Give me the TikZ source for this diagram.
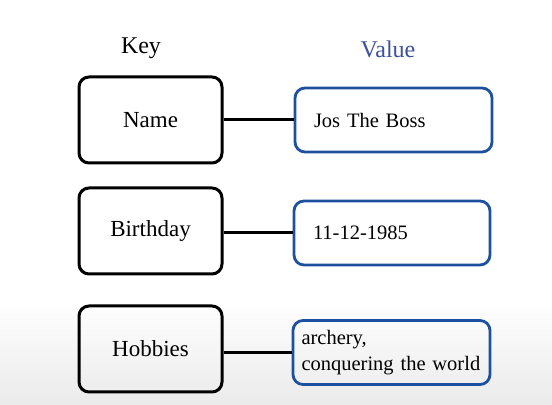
\documentclass[tikz,border=0pt]{standalone}
\usepackage{fontspec}
\setmainfont{Liberation Serif}
\definecolor{valblue}{RGB}{30,80,160}
\definecolor{headblue}{RGB}{60,80,155}
\tikzset{
    keybox/.style={draw, line width=1.5pt, rounded corners=5pt,
        minimum width=71.5pt, minimum height=43pt,
        font=\fontsize{11.5}{13}\selectfont},
    valbox/.style={draw=valblue, line width=1.4pt, rounded corners=5pt,
        minimum height=32pt, align=left,
        font=\fontsize{10.25}{13}\selectfont},
    link/.style={line width=1.5pt}
}
\begin{document}
\begin{tikzpicture}[x=0.5pt, y=-0.5pt]
    \useasboundingbox (0, 0) rectangle (552, 405);
    \shade[top color=white, bottom color=black!8] (0, 300) rectangle (552, 405);

    \node[font=\fontsize{12}{14}\selectfont] (keyhead) at (141, 48) {Key};
    \node[font=\fontsize{12}{14}\selectfont, text=headblue] (valhead) at (388, 49) {Value};

    \node[keybox] (name) at (150.5, 120) {Name};
    \node[keybox] (birthday) at (150.5, 231) {Birthday};
    \node[keybox] (hobbies) at (150.5, 349) {Hobbies};

    \node[valbox, inner xsep=9.5pt, text width=79.5pt] (nameval) at (393.5, 120)
        {Jos The Boss};
    \node[valbox, inner xsep=9.5pt, text width=79pt] (birthdayval) at (392, 233)
        {11-12-1985};
    \node[valbox, inner xsep=4.25pt, text width=90pt] (hobbiesval) at (391.5, 352.5)
        {archery,\\conquering the world};

    \draw[link] (name.east |- nameval.west) -- (nameval.west);
    \draw[link] (birthday.east |- birthdayval.west) -- (birthdayval.west);
    \draw[link] (hobbies.east |- hobbiesval.west) -- (hobbiesval.west);
\end{tikzpicture}
\end{document}
